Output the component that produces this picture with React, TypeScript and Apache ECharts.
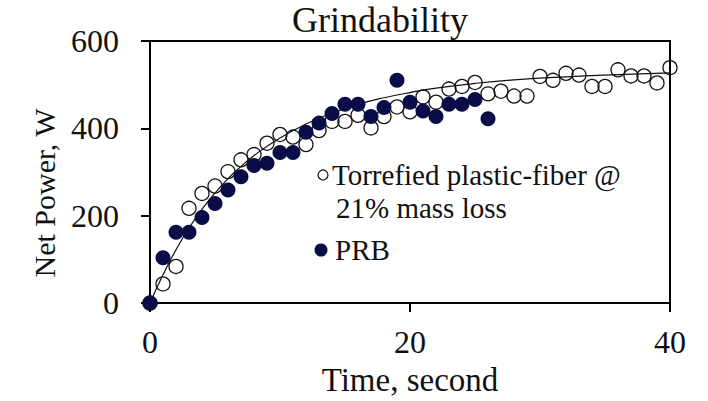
import React, { useEffect, useRef } from "react";
import * as echarts from "echarts";

const FONT = '"Liberation Serif", "Times New Roman", serif';

const titleText = "Grindability";
const xAxisName = "Time, second";
const yAxisName = "Net Power, W";
const xTicks = [0, 20, 40];
const yTicks = [0, 200, 400, 600];

const torrefiedName = "Torrefied plastic-fiber @";
const torrefiedName2 = "21% mass loss";
const prbName = "PRB";

const torrefiedTime = [0, 1, 2, 3, 4, 5, 6, 7, 8, 9, 10, 11, 12, 13, 14, 15, 16, 17, 18, 19, 20, 21, 22, 23, 24, 25, 26, 27, 28, 29, 30, 31, 32, 33, 34, 35, 36, 37, 38, 39, 40];
const torrefiedPower = [0, 44, 84, 217, 251, 268, 301, 328, 340, 366, 386, 380, 363, 395, 416, 416, 430, 401, 427, 449, 438, 472, 460, 490, 496, 505, 479, 485, 474, 474, 519, 510, 526, 522, 496, 496, 534, 520, 520, 504, 539];

const prbTime = [0, 1, 2, 3, 4, 5, 6, 7, 8, 9, 10, 11, 12, 13, 14, 15, 16, 17, 18, 19, 20, 21, 22, 23, 24, 25, 26];
const prbPower = [0, 104, 162, 162, 196, 228, 259, 289, 315, 320, 345, 345, 391, 412, 434, 455, 455, 427, 448, 510, 460, 440, 427, 455, 455, 466, 422];

const fitTime = [0, 1, 2, 3, 4, 5, 6, 7, 8, 10, 12, 14, 16, 18, 20, 22, 25, 28, 32, 36, 40];
const fitPower = [0, 65, 122, 172, 215, 252, 285, 313, 338, 378, 410, 435, 455, 470, 482, 492, 503, 511, 518, 523, 527];

const NAVY = "#0b0b48";

export default function App() {
  const ref = useRef<HTMLDivElement>(null);
  useEffect(() => {
    if (!ref.current) return;
    const chart = echarts.init(ref.current, undefined, { renderer: "svg" });
    const pairs = (xs: number[], ys: number[]) => xs.map((x, i) => [x, ys[i]]);
    chart.setOption({
      animation: false,
      backgroundColor: "#ffffff",
      title: {
        text: titleText,
        left: 292,
        top: 2,
        padding: 0,
        textStyle: { fontFamily: FONT, fontSize: 36, fontWeight: "normal", color: "#111" },
      },
      grid: { left: 150, right: 38, top: 41, bottom: 91, show: true, borderColor: "#000", borderWidth: 2, backgroundColor: "transparent" },
      xAxis: {
        type: "value",
        min: xTicks[0],
        max: xTicks[xTicks.length - 1],
        interval: 20,
        name: xAxisName,
        nameLocation: "middle",
        nameGap: 53,
        nameTextStyle: { fontFamily: FONT, fontSize: 33, color: "#111" },
        axisLine: { show: true, onZero: false, lineStyle: { color: "#000", width: 2 } },
        axisTick: { show: true, inside: false, length: 9, lineStyle: { color: "#000", width: 2 } },
        axisLabel: { fontFamily: FONT, fontSize: 32, color: "#111", margin: 23 },
        splitLine: { show: false },
      },
      yAxis: {
        type: "value",
        min: yTicks[0],
        max: yTicks[yTicks.length - 1],
        interval: 200,
        axisLine: { show: true, onZero: false, lineStyle: { color: "#000", width: 2 } },
        axisTick: { show: true, inside: false, length: 9, lineStyle: { color: "#000", width: 2 } },
        axisLabel: { fontFamily: FONT, fontSize: 32, color: "#111", margin: 31 },
        splitLine: { show: false },
      },
      graphic: [
        {
          type: "text",
          x: 44,
          y: 193,
          rotation: Math.PI / 2,
          style: { text: yAxisName, font: `30px ${FONT}`, fill: "#111", align: "center", verticalAlign: "middle" },
        },
        { type: "circle", shape: { cx: 323, cy: 175, r: 5 }, style: { fill: "none", stroke: "#111", lineWidth: 1.2 } },
        { type: "text", x: 332, y: 175, style: { text: torrefiedName, font: `29px ${FONT}`, fill: "#111", verticalAlign: "middle" } },
        { type: "text", x: 336, y: 208, style: { text: torrefiedName2, font: `29px ${FONT}`, fill: "#111", verticalAlign: "middle" } },
        { type: "circle", shape: { cx: 321, cy: 250, r: 6.5 }, style: { fill: NAVY } },
        { type: "text", x: 335, y: 250, style: { text: prbName, font: `29px ${FONT}`, fill: "#111", verticalAlign: "middle" } },
      ],
      series: [
        {
          name: torrefiedName + " " + torrefiedName2,
          type: "scatter",
          data: pairs(torrefiedTime, torrefiedPower),
          symbol: "circle",
          symbolSize: 14,
          itemStyle: { color: "rgba(0,0,0,0)", borderColor: "#111", borderWidth: 1.3, opacity: 1 },
          z: 2,
        },
        {
          name: "fit",
          type: "line",
          data: pairs(fitTime, fitPower),
          smooth: true,
          showSymbol: false,
          symbol: "none",
          lineStyle: { color: "#111", width: 1.2 },
          z: 3,
        },
        {
          name: prbName,
          type: "scatter",
          data: pairs(prbTime, prbPower),
          symbol: "circle",
          symbolSize: 15,
          itemStyle: { color: NAVY, opacity: 1 },
          z: 4,
        },
      ],
    });
    return () => chart.dispose();
  }, []);
  return <div ref={ref} style={{ position: "absolute", left: 0, top: 0, width: 708, height: 401 }} />;
}
